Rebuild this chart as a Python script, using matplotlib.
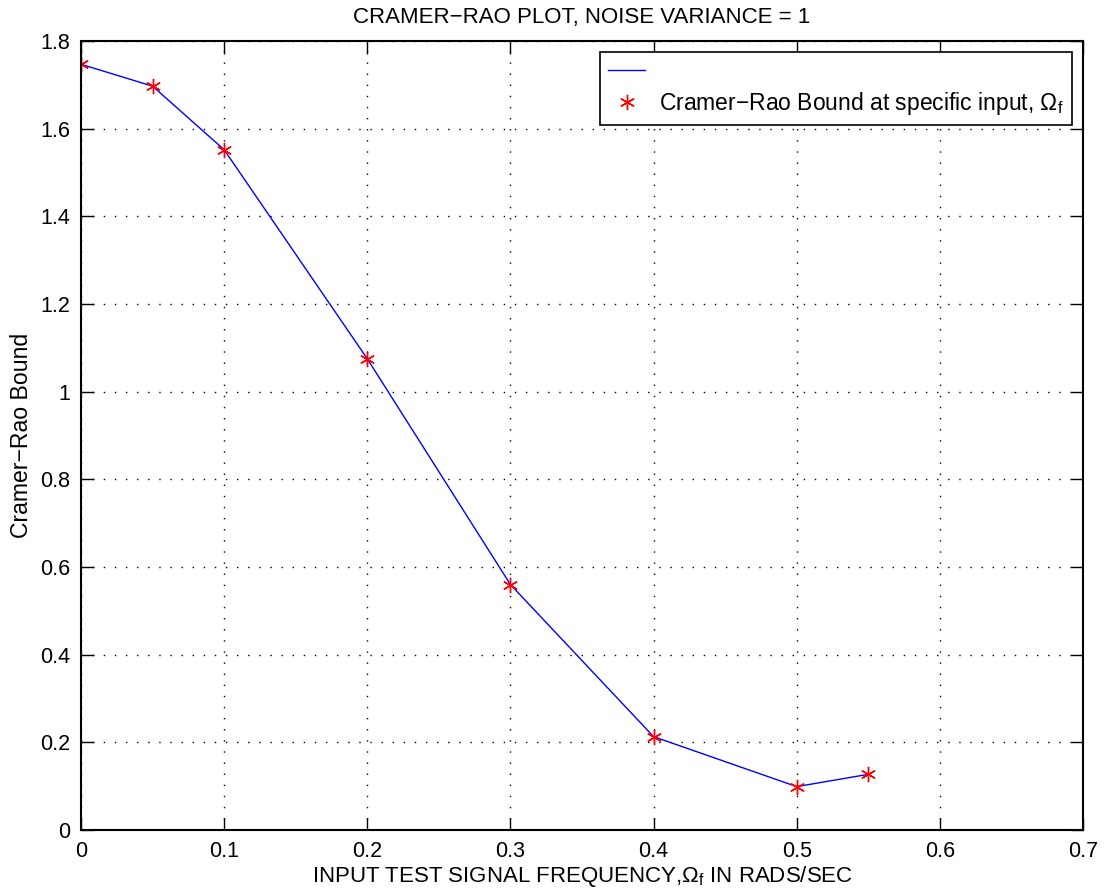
import matplotlib
matplotlib.use("Agg")
import matplotlib.pyplot as plt
from matplotlib.lines import Line2D

plt.rcParams['font.family'] = ['Liberation Sans', 'DejaVu Sans']
plt.rcParams['mathtext.fontset'] = 'custom'
plt.rcParams['mathtext.rm'] = 'Liberation Sans'
plt.rcParams['mathtext.it'] = 'Liberation Sans'

# values
freq = [0.0, 0.05, 0.1, 0.2, 0.3, 0.4, 0.5, 0.55]
crb = [1.747, 1.697, 1.552, 1.075, 0.560, 0.213, 0.099, 0.127]
x_ticks = [0, 0.1, 0.2, 0.3, 0.4, 0.5, 0.6, 0.7]
y_ticks = [0, 0.2, 0.4, 0.6, 0.8, 1.0, 1.2, 1.4, 1.6, 1.8]
x_tick_labels = ["0", "0.1", "0.2", "0.3", "0.4", "0.5", "0.6", "0.7"]
y_tick_labels = ["0", "0.2", "0.4", "0.6", "0.8", "1", "1.2", "1.4", "1.6", "1.8"]

asterisk = (6, 2, 0)  # matlab-style '*'

fig = plt.figure(figsize=(11.07, 8.92), dpi=100)
ax = fig.add_axes([0.0732, 0.0695, 0.9783 - 0.0732, 0.954 - 0.0695])

ax.plot(freq, crb, color="blue", linewidth=1.0)
ax.plot(freq, crb, linestyle="none", marker=asterisk, markersize=11,
        markeredgecolor="red", markeredgewidth=1.0, color="red")

ax.set_xlim(0, 0.7)
ax.set_ylim(0, 1.8)
ax.set_xticks(x_ticks)
ax.set_xticklabels(x_tick_labels)
ax.set_yticks(y_ticks)
ax.set_yticklabels(y_tick_labels)
ax.tick_params(direction="in", length=9, width=1, top=True, right=True,
               labelsize=15.5, pad=8)
for s in ax.spines.values():
    s.set_linewidth(1.5)

ax.grid(True, color="black", linestyle=(0, (1, 7)), linewidth=1.0)

ax.set_title("CRAMER−RAO PLOT, NOISE VARIANCE = 1", fontsize=16, pad=13)
ax.set_xlabel(r"INPUT TEST SIGNAL FREQUENCY,$\Omega_{\mathrm{f}}$ IN RADS/SEC",
              fontsize=16, labelpad=1)
ax.set_ylabel("Cramer−Rao Bound", fontsize=16.6, labelpad=5)

handles = [
    Line2D([], [], color="blue", linewidth=1.0),
    Line2D([], [], linestyle="none", marker=asterisk, markersize=11,
           markeredgecolor="red", markeredgewidth=1.0, color="red"),
]
labels = [" ", r"Cramer−Rao Bound at specific input, $\Omega_{\mathrm{f}}$"]
leg = ax.legend(handles, labels, loc="upper right", fontsize=16.5,
                fancybox=False, edgecolor="black", framealpha=1,
                borderaxespad=0.5, handlelength=1.6, handletextpad=0.6,
                labelspacing=0.3, borderpad=0.35)
leg.get_frame().set_linewidth(1.2)

fig.savefig("out.png", dpi=100)
